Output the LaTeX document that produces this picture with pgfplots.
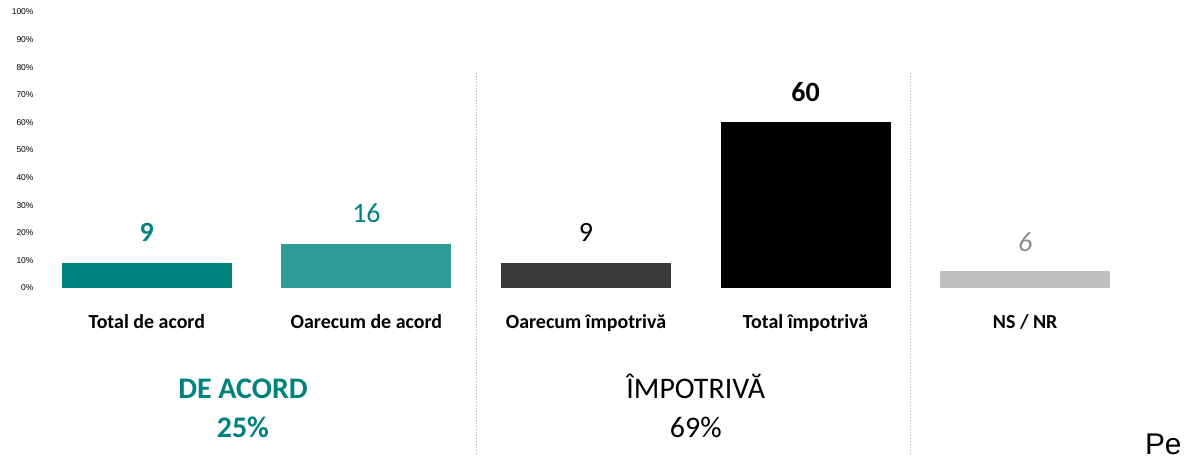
\documentclass[border=0pt]{standalone}
\usepackage{pgfplots}
\pgfplotsset{compat=1.18}
\usepackage{fontspec}
\setmainfont{Carlito}
\newfontfamily\arial{Liberation Sans}
\definecolor{tealA}{HTML}{00827F}
\definecolor{tealB}{HTML}{2E9B97}
\definecolor{darkB}{HTML}{3A3A3A}
\definecolor{grayB}{HTML}{BFBFBF}
\definecolor{grayT}{HTML}{8C8C8C}
\definecolor{sepC}{HTML}{A6A6A6}
\begin{document}
\begin{tikzpicture}[x=1bp,y=1bp]
\useasboundingbox (0,0) rectangle (1188,461);
\begin{axis}[
  at={(37bp,173bp)}, anchor=south west,
  scale only axis, width=1098bp, height=276bp,
  xmin=-0.5, xmax=4.5, ymin=0, ymax=100,
  clip=false,
  axis line style={draw=none},
  major tick length=0pt,
  ytick={0,10,...,100},
  yticklabels={0\%,10\%,20\%,30\%,40\%,50\%,60\%,70\%,80\%,90\%,100\%},
  yticklabel style={font=\arial\fontsize{8.5}{10}\selectfont},
  xtick={0,1,2,3,4},
  xticklabels={Total de acord,Oarecum de acord,Oarecum împotrivă,Total împotrivă,NS / NR},
  xticklabel style={font=\bfseries\fontsize{20}{24}\selectfont, anchor=base, yshift=-41bp},
]
\addplot[ybar, bar shift=0pt, bar width=170bp, fill=tealA, draw=none] coordinates {(0,9)};
\addplot[ybar, bar shift=0pt, bar width=170bp, fill=tealB, draw=none] coordinates {(1,16)};
\addplot[ybar, bar shift=0pt, bar width=170bp, fill=darkB, draw=none] coordinates {(2,9)};
\addplot[ybar, bar shift=0pt, bar width=170bp, fill=black, draw=none] coordinates {(3,60)};
\addplot[ybar, bar shift=0pt, bar width=170bp, fill=grayB, draw=none] coordinates {(4,6)};
% value labels
\node[anchor=base, font=\bfseries\fontsize{28}{32}\selectfont, text=tealA] at (axis cs:0,17) {9};
\node[anchor=base, font=\fontsize{28}{32}\selectfont, text=tealA] at (axis cs:1,23.6) {16};
\node[anchor=base, font=\fontsize{28}{32}\selectfont, text=black] at (axis cs:2,17) {9};
\node[anchor=base, font=\bfseries\fontsize{28}{32}\selectfont, text=black] at (axis cs:3,67.4) {60};
\node[anchor=base, font=\itshape\fontsize{28}{32}\selectfont, text=grayT] at (axis cs:4,13.4) {6};
% separators
\draw[sepC, line width=1bp, dotted] (axis cs:1.5,78) -- (axis cs:1.5,-60.5);
\draw[sepC, line width=1bp, dotted] (axis cs:3.478,78) -- (axis cs:3.478,-60.5);
% group labels
\node[anchor=base, font=\bfseries\fontsize{30}{34}\selectfont, text=tealA] at (axis cs:0.438,-40.2) {DE ACORD};
\node[anchor=base, font=\bfseries\fontsize{30}{34}\selectfont, text=tealA] at (axis cs:0.438,-54.2) {25\%};
\node[anchor=base, font=\fontsize{30}{34}\selectfont, text=black] at (axis cs:2.5,-40.2) {ÎMPOTRIVĂ};
\node[anchor=base, font=\fontsize{30}{34}\selectfont, text=black] at (axis cs:2.5,-54.2) {69\%};
\node[anchor=base west, inner sep=0pt, font=\arial\fontsize{30}{34}\selectfont, text=black] at (axis cs:4.545,-60.5) {Pe};
\end{axis}
\end{tikzpicture}
\end{document}
